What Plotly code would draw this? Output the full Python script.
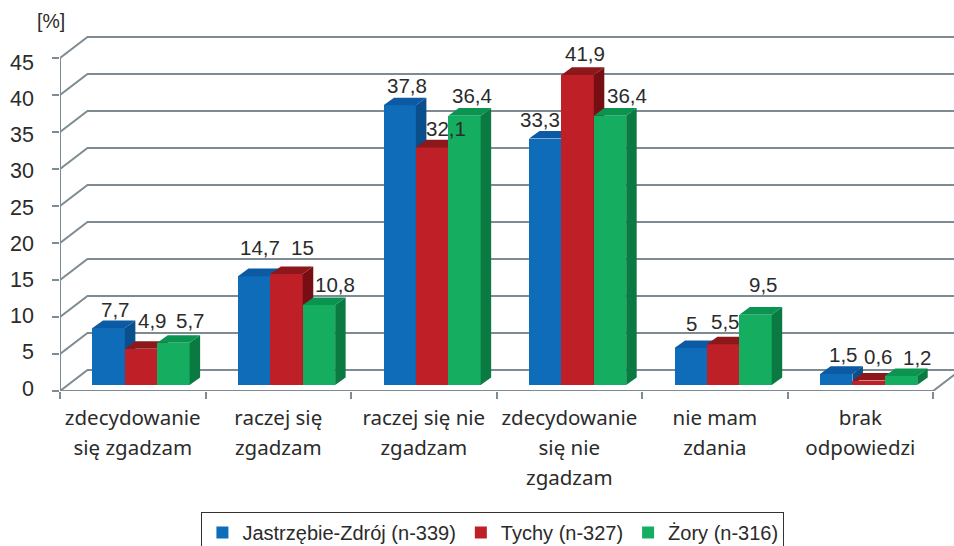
import plotly.graph_objects as go

CATEGORIES = ["zdecydowanie<br>się zgadzam", "raczej się<br>zgadzam", "raczej się nie<br>zgadzam",
              "zdecydowanie<br>się nie<br>zgadzam", "nie mam<br>zdania", "brak<br>odpowiedzi"]
JASTRZEBIE = [7.7, 14.7, 37.8, 33.3, 5, 1.5]
TYCHY = [4.9, 15, 32.1, 41.9, 5.5, 0.6]
ZORY = [5.7, 10.8, 36.4, 36.4, 9.5, 1.2]
SERIES_NAMES = ["Jastrzębie-Zdrój (n-339)", "Tychy (n-327)", "Żory (n-316)"]
Y_TICKS = [0, 5, 10, 15, 20, 25, 30, 35, 40, 45]

FRONT = ["#0f6cb9", "#bf1f27", "#15ae60"]
TOP = ["#0b5aa3", "#8c181c", "#0a9450"]
SIDE = ["#0a4f8c", "#760e13", "#0b7a42"]
GRID = "#7e8b92"
TEXT = "#2b2b2b"

# label nudges (px): right, up
NUDGE = [
    [(7, 19), (6, 29), (7, 20), (-5, 19), (1, 25), (7, 19)],
    [(11, 28), (16, 27), (14, 19), (7, 21), (2, 23), (10, 24)],
    [(17, 22), (16, 21), (8, 20), (17, 20), (8, 30), (16, 19)],
]

W, H = 954, 546
ML, MB = 59.5, 155
XU, YU = 145.6, 7.4           # px per category, px per percent
XMAX = (W - ML) / XU
YMAX = (H - MB) / YU
WALL_X, WALL_Y = 27.5 / XU, 21 / YU     # depth of the chart box
BAR_W = 32.4 / XU
BAR_X0 = 32.5 / XU
BAR_Y0 = 6 / YU               # bars stand in the middle of the floor
DEPTH_X, DEPTH_Y = 10.5 / XU, 7.6 / YU

fig = go.Figure()

# wall lines
gx, gy = [], []
for v in Y_TICKS:
    gx += [0, WALL_X, XMAX, None]
    gy += [v, v + WALL_Y, v + WALL_Y, None]
gx += [0, 0, None, 0, 6, 6 + WALL_X]
gy += [0, 45, None, 0, 0, WALL_Y]
fig.add_trace(go.Scatter(x=gx, y=gy, mode="lines", line=dict(color=GRID, width=2),
                         showlegend=False, hoverinfo="skip", cliponaxis=False))

n = len(CATEGORIES)
for j, (vals, name) in enumerate(zip([JASTRZEBIE, TYCHY, ZORY], SERIES_NAMES)):
    lefts = [i + BAR_X0 + j * BAR_W for i in range(n)]
    sx, sy, tx, ty = [], [], [], []
    for l, v in zip(lefts, vals):
        r = l + BAR_W
        b = BAR_Y0
        t = b + v
        sx += [r, r + DEPTH_X, r + DEPTH_X, r, r, None]
        sy += [b, b + DEPTH_Y, t + DEPTH_Y, t, b, None]
        tx += [l, l + DEPTH_X, r + DEPTH_X, r, l, None]
        ty += [t, t + DEPTH_Y, t + DEPTH_Y, t, t, None]
    z = j + 1
    for px, py, c in ((sx, sy, SIDE[j]), (tx, ty, TOP[j])):
        fig.add_trace(go.Scatter(x=px, y=py, mode="lines", fill="toself", fillcolor=c,
                                 line=dict(width=0, color=c), showlegend=False,
                                 hoverinfo="skip", zorder=z))
    fig.add_trace(go.Bar(x=[l + BAR_W / 2 for l in lefts], y=vals, base=BAR_Y0, width=BAR_W,
                         name=name, marker=dict(color=FRONT[j], line=dict(width=0)), zorder=z))
    for i, (l, v) in enumerate(zip(lefts, vals)):
        dx, dy = NUDGE[j][i]
        fig.add_annotation(x=l + BAR_W / 2, y=BAR_Y0 + v, text=str(v).replace(".", ","),
                           showarrow=False, xshift=dx, yshift=dy,
                           font=dict(family="Liberation Sans", size=20.5, color=TEXT))

# carrier of the y tick labels
fig.add_trace(go.Scatter(x=[0], y=[0], yaxis="y2", mode="markers", marker=dict(opacity=0),
                         showlegend=False, hoverinfo="skip"))

fig.add_annotation(xref="paper", yref="paper", x=(50 - ML) / (W - ML), y=1 - 21 / (H - MB),
                   xanchor="center", yanchor="middle",
                   text="[%]", showarrow=False, font=dict(family="Liberation Sans", size=19.5, color=TEXT))

wrap = lambda s: '<span style="font-size:20.5px">' + s.replace("<br>", '</span><br><span style="font-size:20.5px">') + "</span>"

fig.update_layout(
    width=W, height=H, autosize=False, margin=dict(l=ML, r=0, t=0, b=MB, pad=0, autoexpand=False),
    paper_bgcolor="white", plot_bgcolor="white", barmode="overlay", bargap=0,
    showlegend=True,
    legend=dict(orientation="h", xref="paper", yref="paper", x=(201 - ML) / (W - ML), xanchor="left",
                y=-(512 - (H - MB)) / (H - MB), yanchor="top", bgcolor="white",
                bordercolor="#333333", borderwidth=1, itemclick=False, itemdoubleclick=False,
                font=dict(family="Liberation Sans", size=20, color=TEXT)),
    xaxis=dict(range=[0, XMAX], showgrid=False, zeroline=False, showline=False,
               tickmode="array", tickvals=[i + 0.5 for i in range(n)], ticktext=[wrap(c) for c in CATEGORIES],
               tickangle=0, ticks="", ticklabelstandoff=10,
               tickfont=dict(family="Noto Sans", size=23, color=TEXT),
               minor=dict(tickmode="array", tickvals=list(range(n + 1)), ticks="outside", ticklen=7,
                          tickwidth=2, tickcolor=GRID, showgrid=False)),
    yaxis=dict(range=[0, YMAX], showgrid=False, zeroline=False, showline=False,
               tickmode="array", tickvals=Y_TICKS, ticks="outside", ticklen=7, tickwidth=2,
               tickcolor=GRID, showticklabels=False),
    yaxis2=dict(overlaying="y", side="left", anchor="x", range=[-3 / 7.24, 388 / 7.24],
                showgrid=False, zeroline=False, showline=False, tickmode="array", tickvals=Y_TICKS,
                ticks="", ticklabelstandoff=25, tickfont=dict(family="Liberation Sans", size=21.5, color=TEXT)),
)
fig.write_html("out.html", post_script="document.body.style.margin='0';", config={"displayModeBar": False})
